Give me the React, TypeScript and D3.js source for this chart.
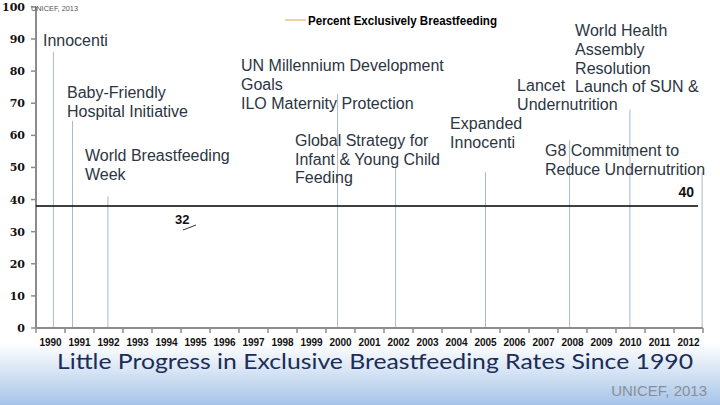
import React from "react";
import * as d3 from "d3";

const years = d3.range(1990, 2013).map(String);
const yTicks = [0, 10, 20, 30, 40, 50, 60, 70, 80, 90, 100];

// events: position on year axis, top of marker line (percent)
const eventNames = ["Innocenti", "Baby-Friendly", "WBW", "UN MDG/ILO", "Global Strategy", "Expanded Innocenti", "Lancet", "SUN", "G8"];
const eventYears = [1990.1, 1990.76, 1991.98, 1999.9, 2001.9, 2005.0, 2007.9, 2009.98, 2012.47];
const eventTops = [86, 64.5, 41, 73, 50, 48.5, 58.5, 68, 48.5];

const labelLines = [
  ["Innocenti"],
  ["Baby-Friendly", "Hospital Initiative"],
  ["World Breastfeeding", "Week"],
  ["UN Millennium Development", "Goals", "ILO Maternity Protection"],
  ["Global Strategy for", "Infant & Young Child", "Feeding"],
  ["Expanded", "Innocenti"],
  ["Lancet", "Undernutrition"],
  ["World Health", "Assembly", "Resolution", "Launch of SUN &"],
  ["G8 Commitment to", "Reduce Undernutrition"],
];
const labelYearPos = [1989.74, 1990.57, 1991.19, 1996.57, 1998.43, 2003.78, 2006.09, 2008.09, 2007.05];
const labelTopPct = [87.8, 71.6, 52.0, 80.0, 56.7, 62.0, 73.7, 90.9, 53.6];

const rateYears = [1989.5, 2012.33];
const rateValues = [38, 38];
const startLabel = "32";
const endLabel = "40";
const legendLabel = "Percent Exclusively Breastfeeding";
const title = "Little Progress in Exclusive Breastfeeding Rates Since 1990";
const source = "UNICEF, 2013";

export default function App() {
  const W = 720, H = 405;
  const left = 36, right = 703, top0 = 6.9, bottom = 328;
  const xBand = d3.scaleBand().domain(years).range([left, right]);
  const xLin = d3.scaleLinear().domain([1989.5, 2012.5]).range([left, right]);
  const y = d3.scaleLinear().domain([0, 100]).range([bottom, top0]);
  const lineGen = d3.line<number>().x((d, i) => xLin(rateYears[i])).y((d) => y(d));
  const lh = 18.7;
  const annFont = "'Liberation Sans', Arial, sans-serif";

  return (
    <svg width={W} height={H} style={{ position: "absolute", left: 0, top: 0, background: "#fff" }} fontFamily={annFont}>
      <defs>
        <linearGradient id="bg" x1="0" y1="0" x2="0" y2="1">
          <stop offset="0" stopColor="#ffffff" />
          <stop offset="1" stopColor="#a6c4e8" />
        </linearGradient>
      </defs>
      <rect x={0} y={0} width={W} height={H} fill="#fff" />
      <rect x={0} y={343} width={W} height={H - 343} fill="url(#bg)" />

      {/* event lines */}
      {eventYears.map((ey, i) => (
        <line key={"ev" + i} x1={xLin(ey)} x2={xLin(ey)} y1={y(eventTops[i])} y2={bottom} stroke="#a9b9c9" strokeWidth={1} />
      ))}

      {/* y axis */}
      <line x1={left} x2={left} y1={y(100)} y2={bottom} stroke="#8c8c8c" strokeWidth={2} />
      {yTicks.map((t) => (
        <g key={"yt" + t}>
          <line x1={left - 5} x2={left} y1={y(t)} y2={y(t)} stroke="#8c8c8c" strokeWidth={1.5} />
          <text x={25} y={y(t) + 4} textAnchor="end" fontFamily="'DejaVu Serif', serif" fontWeight="bold" fontSize={11} fill="#111">{t}</text>
        </g>
      ))}

      {/* x axis */}
      <line x1={left} x2={right} y1={bottom} y2={bottom} stroke="#8c8c8c" strokeWidth={2} />
      {years.map((yr, i) => (
        <line key={"xt" + yr} x1={left + i * xBand.bandwidth()} x2={left + i * xBand.bandwidth()} y1={bottom} y2={bottom + 5} stroke="#8c8c8c" strokeWidth={1.5} />
      ))}
      <line x1={right} x2={right} y1={bottom} y2={bottom + 5} stroke="#8c8c8c" strokeWidth={1.5} />
      {years.map((yr) => (
        <text key={"xl" + yr} x={(xBand(yr) as number) + xBand.bandwidth() / 2} y={346} textAnchor="middle" fontWeight="bold" fontSize={10} fill="#111">{yr}</text>
      ))}

      {/* rate line */}
      <path d={lineGen(rateValues) || ""} fill="none" stroke="#000" strokeWidth={1.5} />
      <text x={175} y={224} fontWeight="bold" fontSize={13} fill="#111">{startLabel}</text>
      <line x1={183} y1={230} x2={196} y2={225} stroke="#333" strokeWidth={1} />
      <text x={694} y={197} textAnchor="end" fontWeight="bold" fontSize={14} fill="#111">{endLabel}</text>

      {/* annotations */}
      {labelLines.map((lines, i) => (
        <text key={"lab" + i} fontSize={16} fill="#2c3542" fontFamily={annFont}>
          {lines.map((ln, j) => (
            <tspan key={j} x={xLin(labelYearPos[i])} y={y(labelTopPct[i]) + j * lh}>{ln}</tspan>
          ))}
        </text>
      ))}

      {/* legend */}
      <line x1={285} x2={306} y1={20} y2={20} stroke="#f3cfa6" strokeWidth={2} />
      <text x={308} y={25} fontWeight="bold" fontSize={12} fill="#000" textLength={189} lengthAdjust="spacingAndGlyphs">{legendLabel}</text>

      {/* small source top */}
      <text x={31} y={11} fontSize={7.5} fill="#555" textLength={47} lengthAdjust="spacingAndGlyphs">{source}</text>

      {/* title */}
      <text x={57} y={369} fontFamily="Lato, 'Open Sans', sans-serif" fontSize={21} fill="#1b2d58" textLength={636} lengthAdjust="spacingAndGlyphs">{title}</text>
      <text x={707} y={396} textAnchor="end" fontSize={15} fill="#8a8f96">{source}</text>
    </svg>
  );
}
